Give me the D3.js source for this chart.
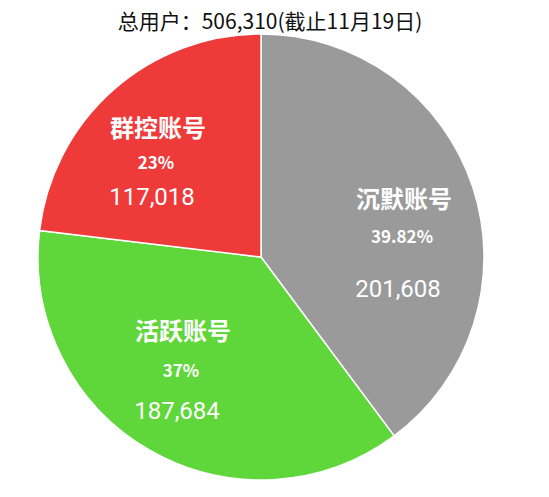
<!DOCTYPE html>
<html><head><meta charset="utf-8">
<script src="https://cdn.jsdelivr.net/npm/d3@7"></script>
<style>body{margin:0;background:#fff}</style></head>
<body><svg id="c" width="549" height="497"></svg>
<script>
const categories = ["沉默账号","活跃账号","群控账号"];
const values = [201608, 187684, 117018];
const percents = ["39.82%","37%","23%"];
const valueLabels = ["201,608","187,684","117,018"];
const colors = ["#9a9a9a","#5fd63a","#ef3a3a"];
const title = "总用户：506,310(截止11月19日)";

const svg = d3.select("#c");
const cx=261, cy=257, r=223;
const g = svg.append("g").attr("transform",`translate(${cx},${cy})`);
const pie = d3.pie().sort(null).value(d=>d);
const arc = d3.arc().innerRadius(0).outerRadius(r);
const arcs = pie(values);
g.selectAll("path").data(arcs).join("path")
 .attr("d",arc).attr("fill",(d,i)=>colors[i]).attr("stroke","#fff").attr("stroke-width",1.5);
const font = "'Noto Sans CJK SC','Noto Sans',sans-serif";
const vfont = "Roboto,'Noto Sans',sans-serif";
const pos = [[404,199],[183,331],[158,128]];
const offs = [[0,37,89],[0,39,79],[0,34,68]];
arcs.forEach((d,i)=>{
  const [x,y]=pos[i];
  svg.append("text").attr("x",x).attr("y",y+9).attr("text-anchor","middle").attr("fill","#fff")
    .attr("font-family",font).attr("font-weight","bold").attr("font-size",24).text(categories[i]);
  svg.append("text").attr("x",x-2).attr("y",y+offs[i][1]+7).attr("text-anchor","middle").attr("fill","#fff")
    .attr("font-family",font).attr("font-weight","bold").attr("font-size",17).text(percents[i]);
  svg.append("text").attr("x",x-6).attr("y",y+offs[i][2]+9).attr("text-anchor","middle").attr("fill","#fff")
    .attr("font-family",vfont).attr("font-size",24).text(valueLabels[i]);
});
svg.append("text").attr("x",270).attr("y",29).attr("text-anchor","middle").attr("fill","#111")
  .attr("font-family",font).attr("font-size",21).text(title);
</script></body></html>
